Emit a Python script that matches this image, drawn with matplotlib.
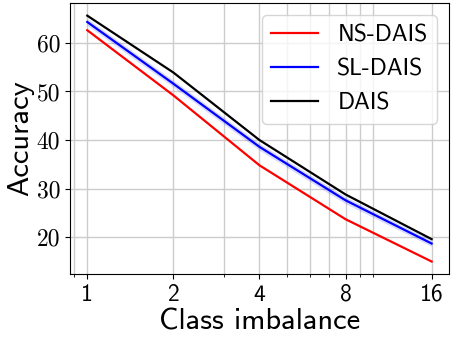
import os
import matplotlib
matplotlib.use("Agg")
import matplotlib.pyplot as plt
from matplotlib import font_manager
from matplotlib.ticker import FixedLocator, LogLocator, NullFormatter
import numpy as np

# register the Computer Modern fonts shipped with matplotlib
ttf_dir = os.path.join(matplotlib.get_data_path(), "fonts", "ttf")
font_manager.fontManager.addfont(os.path.join(ttf_dir, "cmss10.ttf"))
font_manager.fontManager.addfont(os.path.join(ttf_dir, "cmr10.ttf"))
plt.rcParams["font.family"] = ["cmss10", "DejaVu Sans"]
plt.rcParams["axes.unicode_minus"] = False

# Data
imbalance = [1, 2, 4, 8, 16]
ns_dais = [62.6, 49.2, 34.8, 23.7, 15.0]
sl_dais = [64.3, 51.6, 38.6, 27.6, 18.7]
sl_dais_std = [0.7, 0.7, 0.7, 0.7, 0.6]
dais = [65.6, 53.9, 40.0, 28.8, 19.6]
y_ticks = [20, 30, 40, 50, 60]

fig, ax = plt.subplots(figsize=(4.52, 3.38), dpi=100)

ax.plot(imbalance, ns_dais, color="red", linewidth=1.6, label="NS-DAIS")
ax.plot(imbalance, sl_dais, color="blue", linewidth=1.6, label="SL-DAIS")
lo = np.array(sl_dais) - np.array(sl_dais_std)
hi = np.array(sl_dais) + np.array(sl_dais_std)
ax.fill_between(imbalance, lo, hi, color="blue", alpha=0.15, linewidth=0)
ax.plot(imbalance, dais, color="black", linewidth=1.6, label="DAIS")

ax.set_xscale("log")
ax.xaxis.set_major_locator(FixedLocator(imbalance))
ax.set_xticklabels([str(v) for v in imbalance])
ax.xaxis.set_minor_locator(LogLocator(base=10, subs="all"))
ax.xaxis.set_minor_formatter(NullFormatter())

ax.set_yticks(y_ticks)
ax.set_yticklabels([str(v) for v in y_ticks], fontfamily="cmr10")

ax.tick_params(labelsize=17)
ax.grid(True, which="both", color="#cccccc", linewidth=1)
ax.set_axisbelow(True)

ax.set_xlabel("Class imbalance", fontsize=22, labelpad=2)
ax.set_ylabel("Accuracy", fontsize=22, labelpad=2)
ax.legend(loc="upper right", fontsize=17)

fig.subplots_adjust(left=0.155, right=0.993, top=0.99, bottom=0.19)
fig.savefig("out.png", dpi=100)
